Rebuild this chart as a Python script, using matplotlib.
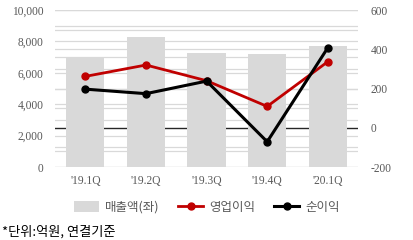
import matplotlib
matplotlib.use("Agg")
import matplotlib.pyplot as plt
from matplotlib.lines import Line2D
from matplotlib.patches import Patch
import numpy as np

categories = ["'19.1Q", "'19.2Q", "'19.3Q", "'19.4Q", "'20.1Q"]
revenue = [7000, 8280, 7260, 7200, 7710]
op_profit = [262, 320, 240, 109, 337]
net_profit = [197, 174, 238, -71, 408]
left_ticks = [0, 2000, 4000, 6000, 8000, 10000]
right_ticks = [-200, 0, 200, 400, 600]

KR = ["Noto Sans CJK KR", "DejaVu Sans"]
SERIF = "Liberation Serif"
tick_color = "#595959"
grid_color = "#d9d9d9"

fig = plt.figure(figsize=(4.14, 2.40), dpi=100)
ax = fig.add_axes([0.133, 0.304, 0.732, 0.654])
ax2 = ax.twinx()

x = np.arange(len(categories))

for v in range(0, 10001, 1000):
    ax.axhline(v, color=grid_color, lw=0.9, zorder=0)
ax.set_zorder(1)
ax2.set_zorder(2)
ax.patch.set_visible(False)
ax2.patch.set_visible(False)

ax.bar(x, revenue, width=0.63, color="#d9d9d9", zorder=3)
ax.set_ylim(0, 10000)
ax.set_xlim(-0.5, len(categories) - 0.5)

for v in range(-200, 601, 100):
    yv = (v + 200) / 800 * 10000
    if v == 0:
        ax.axhline(yv, color="#262626", lw=1.0, zorder=1)
    else:
        ax.axhline(yv, color=grid_color, lw=0.9, zorder=0)

ax2.plot(x, op_profit, color="#c00000", lw=2.0, marker="o", ms=5, zorder=5)
ax2.plot(x, net_profit, color="black", lw=2.2, marker="o", ms=5, zorder=6)
ax2.set_ylim(-200, 600)
ax2.set_xlim(-0.5, len(categories) - 0.5)

ax.set_yticks(left_ticks)
ax.set_yticklabels([f"{v:,}" for v in left_ticks])
ax2.set_yticks(right_ticks)
ax2.set_yticklabels([str(v) for v in right_ticks])
ax.set_xticks(x)
ax.set_xticklabels(categories)

for a in (ax, ax2):
    for s in a.spines.values():
        s.set_visible(False)
    a.tick_params(length=0, colors=tick_color, labelsize=8.3)
    for lab in a.get_xticklabels() + a.get_yticklabels():
        lab.set_fontfamily(SERIF)
ax.tick_params(axis="y", pad=8.5)
ax.tick_params(axis="x", pad=6)
ax2.tick_params(axis="y", pad=9)

handles = [
    Patch(facecolor="#d9d9d9", edgecolor="none"),
    Line2D([0], [0], color="#c00000", lw=2.0, marker="o", ms=5),
    Line2D([0], [0], color="black", lw=2.2, marker="o", ms=5),
]
labels = ["매출액(좌)", "영업이익", "순이익"]
leg = fig.legend(handles, labels, loc="center", bbox_to_anchor=(0.5, 0.137), ncol=3,
                 frameon=False, prop={"family": KR, "size": 9}, handlelength=2.0,
                 handleheight=1.0, columnspacing=1.5, handletextpad=0.5)
for t in leg.get_texts():
    t.set_color(tick_color)

fig.text(0.005, 0.033, "*단위:억원, 연결기준", family=KR, fontsize=9.5, color="black",
         ha="left", va="center")

fig.savefig("out.png", dpi=100)
